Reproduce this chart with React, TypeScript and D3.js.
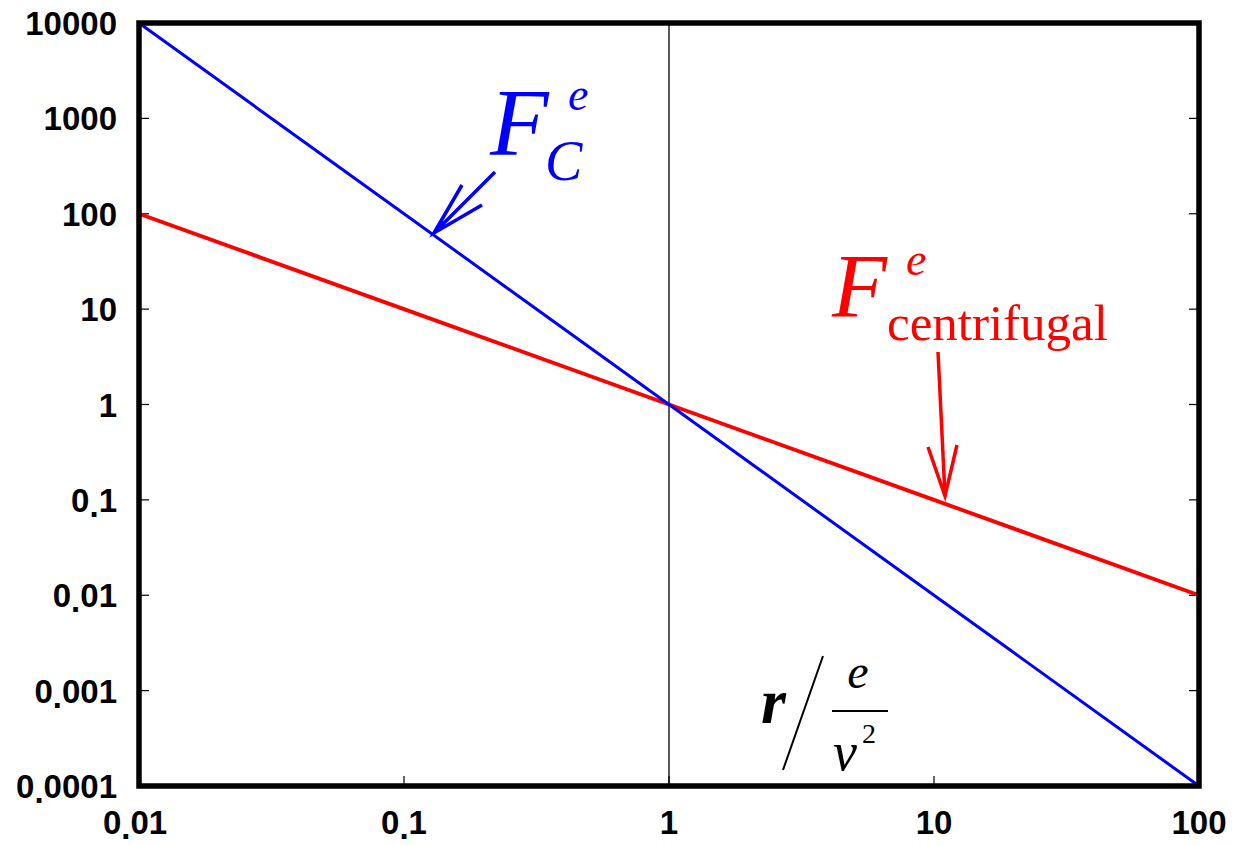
import React, { useRef, useEffect } from 'react';
import * as d3 from 'd3';

// r / (e / v^2) sample points
const rValues = [0.01, 0.1, 1, 10, 100];
// F_C^e  ~ 1/r^2
const coulombValues = [10000, 100, 1, 0.01, 0.0001];
// F_centrifugal^e ~ 1/r
const centrifugalValues = [100, 10, 1, 0.1, 0.01];

const xTicks = [0.01, 0.1, 1, 10, 100];
const xTickLabels = ['0.01', '0.1', '1', '10', '100'];
const yTicks = [0.0001, 0.001, 0.01, 0.1, 1, 10, 100, 1000, 10000];
const yTickLabels = ['0.0001', '0.001', '0.01', '0.1', '1', '10', '100', '1000', '10000'];

const width = 1239;
const height = 846;
const margin = { top: 23, right: 40, bottom: 60, left: 139 };

// draws "0.01" with the decimal dot pushed below the baseline, like the original
const writeLabel = (sel, label) => {
  const parts = label.split('.');
  if (parts.length === 1) {
    sel.text(label);
    return;
  }
  sel.append('tspan').text(parts[0]);
  sel.append('tspan').attr('dy', 5).text('.');
  sel.append('tspan').attr('dy', -5).text(parts[1]);
};

const App = () => {
  const svgRef = useRef(null);

  useEffect(() => {
    const svg = d3.select(svgRef.current);
    svg.selectAll('*').remove();

    const x = d3.scaleLog()
      .domain([0.01, 100])
      .range([margin.left, width - margin.right]);

    const y = d3.scaleLog()
      .domain([0.0001, 10000])
      .range([height - margin.bottom, margin.top]);

    const x0 = x.range()[0], x1 = x.range()[1];
    const y0 = y.range()[0], y1 = y.range()[1];

    // vertical reference line at r = 1
    svg.append('line')
      .attr('x1', x(1)).attr('x2', x(1))
      .attr('y1', y1).attr('y2', y0)
      .attr('stroke', '#000')
      .attr('stroke-width', 1.3);

    // inward ticks
    const tickLen = 10;
    yTicks.forEach(t => {
      svg.append('line')
        .attr('x1', x0).attr('x2', x0 + tickLen)
        .attr('y1', y(t)).attr('y2', y(t))
        .attr('stroke', '#000').attr('stroke-width', 1.2);
      svg.append('line')
        .attr('x1', x1 - tickLen).attr('x2', x1)
        .attr('y1', y(t)).attr('y2', y(t))
        .attr('stroke', '#000').attr('stroke-width', 1.2);
    });
    xTicks.forEach(t => {
      svg.append('line')
        .attr('x1', x(t)).attr('x2', x(t))
        .attr('y1', y0 - tickLen).attr('y2', y0)
        .attr('stroke', '#000').attr('stroke-width', 1.2);
    });

    const line = d3.line()
      .x(d => x(d[0]))
      .y(d => y(d[1]));

    svg.append('path')
      .datum(rValues.map((r, i) => [r, centrifugalValues[i]]))
      .attr('fill', 'none')
      .attr('stroke', '#ff0000')
      .attr('stroke-width', 3.8)
      .attr('d', line);

    svg.append('path')
      .datum(rValues.map((r, i) => [r, coulombValues[i]]))
      .attr('fill', 'none')
      .attr('stroke', '#0000ff')
      .attr('stroke-width', 3)
      .attr('d', line);

    // frame
    svg.append('rect')
      .attr('x', x0).attr('y', y1)
      .attr('width', x1 - x0).attr('height', y0 - y1)
      .attr('fill', 'none')
      .attr('stroke', '#000')
      .attr('stroke-width', 5.5);

    // tick labels
    const labelFont = "'Liberation Sans', Arial, sans-serif";
    yTicks.forEach((t, i) => {
      const txt = svg.append('text')
        .attr('x', 117)
        .attr('y', y(t) + 12)
        .attr('text-anchor', 'end')
        .attr('font-family', labelFont)
        .attr('font-weight', 'bold')
        .attr('font-size', 33);
      writeLabel(txt, yTickLabels[i]);
    });
    xTicks.forEach((t, i) => {
      const txt = svg.append('text')
        .attr('x', x(t) - (i === 0 ? 4 : 0))
        .attr('y', 834)
        .attr('text-anchor', 'middle')
        .attr('font-family', labelFont)
        .attr('font-weight', 'bold')
        .attr('font-size', 33);
      writeLabel(txt, xTickLabels[i]);
    });

    const serif = "'Liberation Serif', 'Times New Roman', serif";

    // F_C^e label
    const blue = svg.append('g').attr('fill', '#0000ff').attr('font-family', serif).attr('font-style', 'italic');
    blue.append('text').attr('x', 490).attr('y', 155).attr('font-size', 96).text('F');
    blue.append('text').attr('x', 568).attr('y', 110).attr('font-size', 46).text('e');
    blue.append('text').attr('x', 545).attr('y', 180).attr('font-size', 56).text('C');
    svg.append('path')
      .attr('d', 'M495,172 L434,233 M462,185 L434,233 L482,205')
      .attr('fill', 'none')
      .attr('stroke', '#0000ff')
      .attr('stroke-width', 3.5);

    // F_centrifugal^e label
    const red = svg.append('g').attr('fill', '#ff0000').attr('font-family', serif);
    red.append('text').attr('x', 832).attr('y', 317).attr('font-size', 90).attr('font-style', 'italic').text('F');
    red.append('text').attr('x', 906).attr('y', 275).attr('font-size', 46).attr('font-style', 'italic').text('e');
    red.append('text').attr('x', 887).attr('y', 340).attr('font-size', 51).text('centrifugal');
    svg.append('path')
      .attr('d', 'M938,352 L945,496 M928,447 L945,496 L957,445')
      .attr('fill', 'none')
      .attr('stroke', '#ff0000')
      .attr('stroke-width', 3.5);

    // axis label r / (e / v^2)
    const ax = svg.append('g').attr('fill', '#000').attr('font-family', serif);
    ax.append('text').attr('x', 761).attr('y', 723).attr('font-size', 64)
      .attr('font-style', 'italic').attr('font-weight', 'bold').text('r');
    svg.append('line')
      .attr('x1', 783).attr('y1', 770).attr('x2', 823).attr('y2', 656)
      .attr('stroke', '#000').attr('stroke-width', 2);
    ax.append('text').attr('x', 858).attr('y', 688).attr('font-size', 48)
      .attr('font-style', 'italic').attr('text-anchor', 'middle').text('e');
    svg.append('line')
      .attr('x1', 832).attr('y1', 711).attr('x2', 888).attr('y2', 711)
      .attr('stroke', '#000').attr('stroke-width', 2);
    ax.append('text').attr('x', 833).attr('y', 770).attr('font-size', 54)
      .attr('font-style', 'italic').text('v');
    ax.append('text').attr('x', 862).attr('y', 743).attr('font-size', 28).text('2');
  }, []);

  return (
    <svg
      ref={svgRef}
      width={width}
      height={height}
      style={{ position: 'absolute', left: 0, top: 0, background: '#fff' }}
    />
  );
};

export default App;
